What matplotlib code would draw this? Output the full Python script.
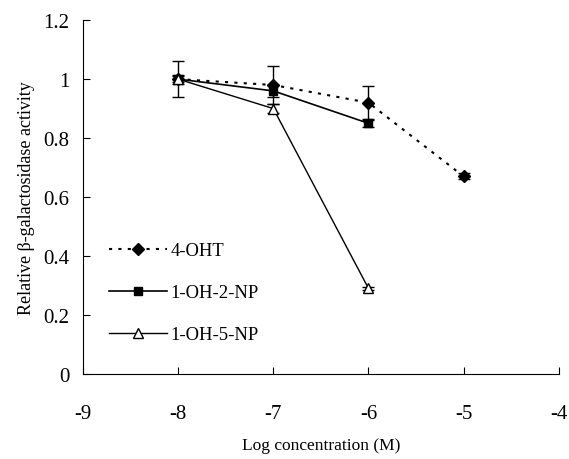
import matplotlib
matplotlib.use("Agg")
import matplotlib.pyplot as plt
from matplotlib.lines import Line2D

plt.rcParams['font.family'] = ['Liberation Serif', 'DejaVu Serif']

# Data
log_conc = [-8, -7, -6, -5]
ohT = [1.0, 0.98, 0.92, 0.67]
ohT_err = [0.06, 0.065, 0.055, 0.01]

conc_np = [-8, -7, -6]
oh2np = [1.0, 0.96, 0.85]
oh2np_err = [0.015, 0.02, 0.012]
oh5np = [1.0, 0.90, 0.29]
oh5np_err = [0.01, 0.015, 0.005]

fig = plt.figure(figsize=(5.69, 4.6), dpi=100)
ax = fig.add_axes([0.146, 0.185, 0.836, 0.769])

dot = (0, (1.5, 3))
ax.errorbar(log_conc, ohT, yerr=ohT_err, color='black', linestyle=dot,
            lw=1.5, marker='D', markersize=6, capsize=4, elinewidth=1)
ax.errorbar(conc_np, oh2np, yerr=oh2np_err, color='black', linestyle='-',
            lw=1.2, marker='s', markersize=6, capsize=4, elinewidth=1)
ax.errorbar(conc_np, oh5np, yerr=oh5np_err, color='black', linestyle='-',
            lw=1.0, marker='^', markersize=7, markerfacecolor='white',
            capsize=4, elinewidth=1)

ax.set_xlim(-9, -4)
ax.set_ylim(0, 1.2)
ax.set_xticks([-9, -8, -7, -6, -5, -4])
ax.set_xticklabels(["-9", "-8", "-7", "-6", "-5", "-4"])
ax.set_yticks([0, 0.2, 0.4, 0.6, 0.8, 1.0, 1.2])
ax.set_yticklabels(["0", "0.2", "0.4", "0.6", "0.8", "1", "1.2"])
ax.tick_params(direction='in', labelsize=15, length=5)
ax.tick_params(axis='x', pad=22)
ax.tick_params(axis='y', pad=10)
ax.spines['top'].set_visible(False)
ax.spines['right'].set_visible(False)

ax.set_xlabel("Log concentration (M)", fontsize=12.5, labelpad=10)
ax.set_ylabel("Relative \u03b2-galactosidase activity", fontsize=13, labelpad=6)

handles = [
    Line2D([], [], color='black', linestyle=dot, lw=1.5, marker='D', markersize=6),
    Line2D([], [], color='black', linestyle='-', lw=1.2, marker='s', markersize=6),
    Line2D([], [], color='black', linestyle='-', lw=1.0, marker='^', markersize=7,
           markerfacecolor='white'),
]
labels = ["4-OHT", "1-OH-2-NP", "1-OH-5-NP"]
ax.legend(handles, labels, frameon=False, fontsize=13.4, loc='upper left',
          bbox_to_anchor=(0.02, 0.42), handlelength=3.1,
          labelspacing=1.35, handletextpad=0.2)

fig.savefig("out.png", dpi=100)
